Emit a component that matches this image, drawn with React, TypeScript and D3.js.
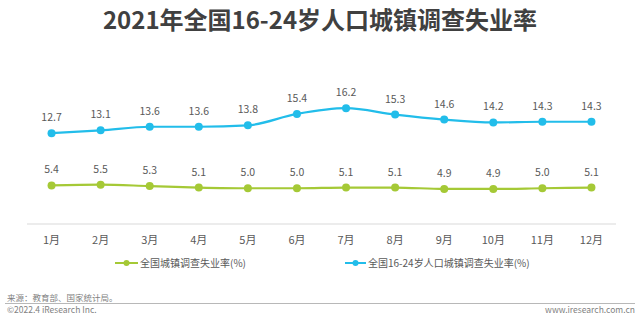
import React from "react";
import * as d3 from "d3";

const months = ["1月", "2月", "3月", "4月", "5月", "6月", "7月", "8月", "9月", "10月", "11月", "12月"];
const nationalRate = [5.4, 5.5, 5.3, 5.1, 5.0, 5.0, 5.1, 5.1, 4.9, 4.9, 5.0, 5.1];
const youthRate = [12.7, 13.1, 13.6, 13.6, 13.8, 15.4, 16.2, 15.3, 14.6, 14.2, 14.3, 14.3];
const seriesNames = ["全国城镇调查失业率(%)", "全国16-24岁人口城镇调查失业率(%)"];
const title = "2021年全国16-24岁人口城镇调查失业率";
const source = "来源：教育部、国家统计局。";
const copyright = "©2022.4 iResearch Inc.";
const website = "www.iresearch.com.cn";

const W = 640;
const H = 324;
const GREEN = "#a5c936";
const BLUE = "#22bdea";
const FONT = "'Noto Sans CJK SC', 'Noto Sans', sans-serif";

export default function App() {
  const x = d3.scaleBand<string>().domain(months).range([27, 616]);
  const cx = (m: string) => (x(m) as number) + x.bandwidth() / 2;
  const y = d3.scaleLinear().domain([0, 18]).range([224, 224 - 18 * 7.15]);

  const line = d3
    .line<number>()
    .x((_, i) => cx(months[i]))
    .y((v) => y(v))
    .curve(d3.curveMonotoneX);

  const series = [
    { name: seriesNames[0], values: nationalRate, color: GREEN },
    { name: seriesNames[1], values: youthRate, color: BLUE },
  ];

  const legendPos = [
    { x1: 115, x2: 138, tx: 140 },
    { x1: 345, x2: 366, tx: 368 },
  ];

  return (
    <svg
      width={W}
      height={H}
      style={{ position: "absolute", left: 0, top: 0, background: "#fff", fontFamily: FONT }}
    >
      <text x={320} y={29} textAnchor="middle" fontSize={24} fontWeight="bold" fill="#404040">
        {title}
      </text>

      <line x1={27} x2={616} y1={y(0)} y2={y(0)} stroke="#d9d9d9" strokeWidth={1} />
      {months.map((m) => (
        <text key={m} x={cx(m)} y={244} textAnchor="middle" fontSize={11} fill="#595959">
          {m}
        </text>
      ))}

      {series.map((s) => (
        <g key={s.name}>
          <path d={line(s.values) || ""} fill="none" stroke={s.color} strokeWidth={2.2} />
          {s.values.map((v, i) => (
            <g key={i}>
              <circle cx={cx(months[i])} cy={y(v)} r={4} fill={s.color} />
              <text
                x={cx(months[i])}
                y={y(v) - 12}
                textAnchor="middle"
                fontSize={10.5}
                fill="#595959"
              >
                {v.toFixed(1)}
              </text>
            </g>
          ))}
        </g>
      ))}

      {series.map((s, i) => (
        <g key={"lg" + i}>
          <line x1={legendPos[i].x1} x2={legendPos[i].x2} y1={263} y2={263} stroke={s.color} strokeWidth={2} />
          <circle cx={(legendPos[i].x1 + legendPos[i].x2) / 2} cy={263} r={3} fill={s.color} />
          <text x={legendPos[i].tx} y={266.5} fontSize={10} fill="#595959">
            {s.name}
          </text>
        </g>
      ))}

      <text x={7} y={301} fontSize={8.5} fill="#7f7f7f">
        {source}
      </text>
      <line x1={5} x2={635} y1={303.5} y2={303.5} stroke="#a6a6a6" strokeWidth={0.8} />
      <text x={7} y={313} fontSize={8.5} fill="#7f7f7f">
        {copyright}
      </text>
      <text x={635} y={313} textAnchor="end" fontSize={8.5} fill="#7f7f7f">
        {website}
      </text>
    </svg>
  );
}
